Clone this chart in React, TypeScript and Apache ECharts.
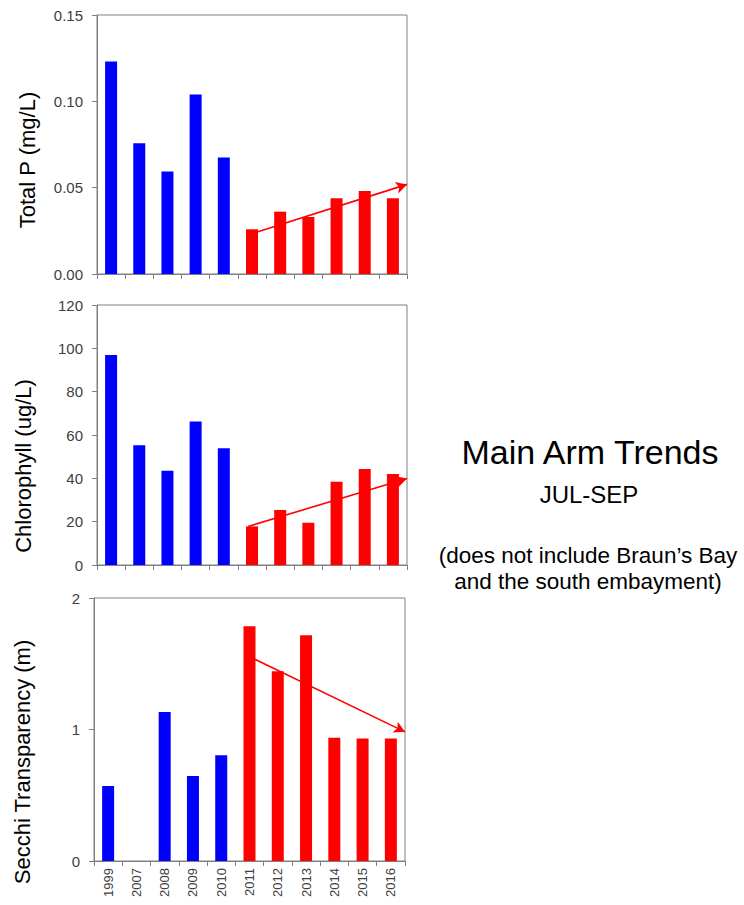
import React, { useEffect, useRef } from "react";
import * as echarts from "echarts";

const years = ["1999", "2007", "2008", "2009", "2010", "2011", "2012", "2013", "2014", "2015", "2016"];
const totalP = [0.123, 0.0757, 0.0593, 0.104, 0.0674, 0.0259, 0.0361, 0.033, 0.0438, 0.0481, 0.0438];
const chlorophyll = [96.9, 55.3, 43.5, 66.2, 53.9, 17.8, 25.4, 19.5, 38.4, 44.3, 42.0];
const secchi = [0.57, null, 1.134, 0.646, 0.805, 1.785, 1.443, 1.717, 0.937, 0.932, 0.932];
// trend arrows: [x position in category units, value]
const totalPTrend = [[5.71, 0.0245], [11, 0.0519]];
const chlorophyllTrend = [[5.36, 17.8], [11, 39.9]];
const secchiTrend = [[5.69, 1.534], [11, 0.982]];
const firstRecentIndex = 5;

const FONT = "Liberation Sans, Arial, sans-serif";
const AXIS_GRAY = "#808080";
const LABEL_COLOR = "#404040";

export default function App() {
  const ref = useRef<HTMLDivElement>(null);
  useEffect(() => {
    if (!ref.current) return;
    const chart = echarts.init(ref.current, null, { renderer: "svg" });
    const grids = [
      { left: 97, top: 15, width: 310, height: 259 },
      { left: 97, top: 305, width: 310, height: 260 },
      { left: 94, top: 598, width: 311, height: 263 },
    ];
    const yDefs = [
      { min: 0, max: 0.15, interval: 0.05, fmt: (v: number) => v.toFixed(2) },
      { min: 0, max: 120, interval: 20, fmt: (v: number) => String(v) },
      { min: 0, max: 2, interval: 1, fmt: (v: number) => String(v) },
    ];
    const values = [totalP, chlorophyll, secchi];
    const trends = [totalPTrend, chlorophyllTrend, secchiTrend];

    const xAxis: any[] = [];
    const yAxis: any[] = [];
    const series: any[] = [];
    grids.forEach((g, i) => {
      xAxis.push({
        type: "category",
        gridIndex: i,
        data: years,
        boundaryGap: true,
        axisLine: { lineStyle: { color: AXIS_GRAY, width: 1 } },
        axisTick: { show: true, length: 5, interval: 0, lineStyle: { color: AXIS_GRAY } },
        axisLabel: {
          show: i === 2,
          rotate: 90,
          interval: 0,
          margin: 7,
          fontSize: 13,
          fontFamily: FONT,
          color: LABEL_COLOR,
        },
        splitLine: { show: false },
      });
      xAxis.push({
        type: "value",
        gridIndex: i,
        min: 0,
        max: 11,
        show: false,
      });
      const yd = yDefs[i];
      yAxis.push({
        type: "value",
        gridIndex: i,
        min: yd.min,
        max: yd.max,
        interval: yd.interval,
        axisLine: { show: true, lineStyle: { color: AXIS_GRAY, width: 1 } },
        axisTick: { show: true, length: 5, lineStyle: { color: AXIS_GRAY } },
        axisLabel: {
          formatter: yd.fmt,
          fontSize: 15,
          fontFamily: FONT,
          color: LABEL_COLOR,
          margin: 14,
        },
        splitLine: { show: false },
      });
      series.push({
        type: "bar",
        xAxisIndex: i * 2,
        yAxisIndex: i,
        data: values[i].map((v) => (v === null ? "-" : v)),
        barWidth: 12,
        itemStyle: {
          color: (p: any) => (p.dataIndex < firstRecentIndex ? "#0000FF" : "#FF0000"),
        },
        silent: true,
      });
      const t = trends[i];
      series.push({
        type: "line",
        xAxisIndex: i * 2 + 1,
        yAxisIndex: i,
        data: [],
        silent: true,
        markLine: {
          silent: true,
          symbol: ["none", "arrow"],
          symbolSize: [9, 11],
          label: { show: false },
          lineStyle: { color: "#FF0000", width: 1.6, type: "solid" },
          emphasis: { disabled: true },
          data: [[{ coord: t[0] }, { coord: t[1] }]],
        },
      });
    });

    const titleStyle = (text: string) => ({
      text,
      font: `22px ${FONT}`,
      fill: "#000000",
      textAlign: "center",
      textVerticalAlign: "middle",
    });

    chart.setOption({
      animation: false,
      backgroundColor: "#FFFFFF",
      grid: grids.map((g) => ({
        ...g,
        show: true,
        borderColor: AXIS_GRAY,
        borderWidth: 1,
        backgroundColor: "transparent",
        containLabel: false,
      })),
      xAxis,
      yAxis,
      series,
      graphic: [
        { type: "text", x: 27, y: 160, rotation: Math.PI / 2, style: titleStyle("Total P (mg/L)") },
        { type: "text", x: 23, y: 466, rotation: Math.PI / 2, style: titleStyle("Chlorophyll (ug/L)") },
        { type: "text", x: 22, y: 762, rotation: Math.PI / 2, style: titleStyle("Secchi Transparency (m)") },
        {
          type: "text",
          x: 590,
          y: 469,
          style: { text: "Main Arm Trends", font: `34px ${FONT}`, fill: "#000", textAlign: "center", textVerticalAlign: "bottom" },
        },
        {
          type: "text",
          x: 589,
          y: 506,
          style: { text: "JUL-SEP", font: `24px ${FONT}`, fill: "#000", textAlign: "center", textVerticalAlign: "bottom" },
        },
        {
          type: "text",
          x: 588,
          y: 567,
          style: { text: "(does not include Braun\u2019s Bay", font: `22.5px ${FONT}`, fill: "#000", textAlign: "center", textVerticalAlign: "bottom" },
        },
        {
          type: "text",
          x: 588,
          y: 593,
          style: { text: "and the south embayment)", font: `22.5px ${FONT}`, fill: "#000", textAlign: "center", textVerticalAlign: "bottom" },
        },
      ],
    });
    return () => chart.dispose();
  }, []);
  return (
    <div
      ref={ref}
      style={{ position: "fixed", left: 0, top: 0, width: 744, height: 905 }}
    />
  );
}
